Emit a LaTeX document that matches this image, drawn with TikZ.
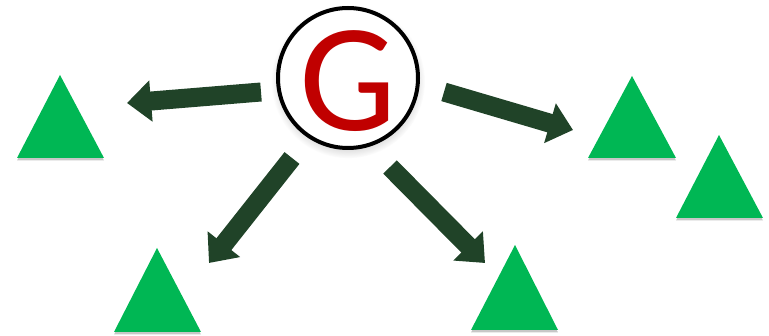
\documentclass[tikz,border=0pt]{standalone}
\usepackage{fontspec}
\setmainfont{Carlito}
\usetikzlibrary{arrows.meta,shadows}
\definecolor{trigreen}{RGB}{0,183,84}
\definecolor{arrgreen}{RGB}{32,67,40}
\definecolor{gred}{RGB}{192,0,0}
\tikzset{
  trishape/.style={fill=trigreen, draw=none,
    drop shadow={shadow xshift=0pt, shadow yshift=-2.5pt, opacity=0.22, fill=black}},
  bigarrow/.style={draw=arrgreen, line width=19pt,
    -{Triangle[width=40pt,length=24pt]}},
  gcircle/.style={circle, draw=black, line width=4pt, fill=white,
    minimum size=140pt, inner sep=0pt,
    circular drop shadow={shadow xshift=0pt, shadow yshift=-3pt, opacity=0.3}},
}
\begin{document}
\begin{tikzpicture}[x=1pt,y=-1pt]
\useasboundingbox (0,0) rectangle (769,336);
% triangles
\path[trishape] (17,158) -- (60,75) -- (104,158) -- cycle;
\path[trishape] (588,158) -- (632,76) -- (676,158) -- cycle;
\path[trishape] (676,218) -- (719,135) -- (763,218) -- cycle;
\path[trishape] (114,332) -- (157,248) -- (201,332) -- cycle;
\path[trishape] (471,330) -- (515,245) -- (558,330) -- cycle;
% central node
\node[gcircle] (g) at (348,78) {};
\node[text=gred, inner sep=0pt, font=\fontsize{154}{154}\selectfont] (glabel) at (348,81) {G};
% arrow coordinates
\coordinate (ls) at (261,92);  \coordinate (le) at (127,103);
\coordinate (rs) at (444,92);  \coordinate (re) at (573,130);
\coordinate (bls) at (292,158); \coordinate (ble) at (209,263);
\coordinate (brs) at (390,167); \coordinate (bre) at (485,263);
\draw[bigarrow] (ls) -- (le);
\draw[bigarrow] (rs) -- (re);
\draw[bigarrow] (bls) -- (ble);
\draw[bigarrow] (brs) -- (bre);
\end{tikzpicture}
\end{document}
